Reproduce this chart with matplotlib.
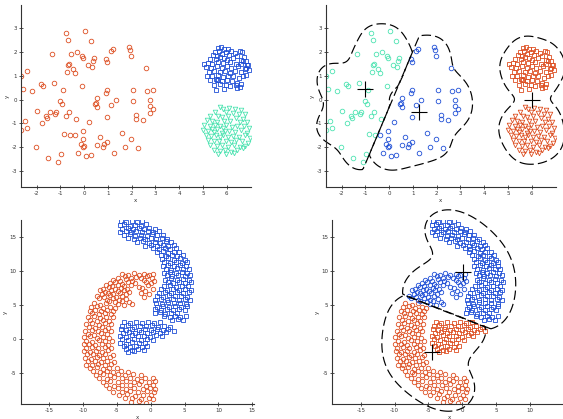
import numpy as np
import matplotlib.pyplot as plt

# ---------------------------------------------------------------- top row
# loose cluster (circles); split the way the clustering on the right splits it
wide_left = [
    (-0.76, 2.81), (0.04, 2.89), (-0.67, 2.52), (0.30, 2.47), (-1.35, 1.92),
    (-0.54, 1.91), (-0.30, 1.99), (-0.09, 1.84), (-0.06, 1.74), (0.41, 1.74),
    (0.37, 1.63), (-0.64, 1.49), (-0.68, 1.45), (0.18, 1.47), (0.32, 1.39),
    (-0.48, 1.29), (-0.40, 1.12), (-0.72, 1.15), (-2.41, 1.21), (-2.66, 1.00),
    (-2.56, 0.45), (-2.20, 0.35), (-1.83, 0.66), (-1.72, 0.56), (-1.27, 0.70),
    (-0.91, 0.41), (-0.11, 0.56), (-1.02, -0.04), (-0.93, -0.20), (-2.00, -0.46),
    (-1.42, -0.53), (-1.19, -0.52), (-1.21, -0.60), (-0.64, -0.52), (-0.76, -0.69),
    (-1.59, -0.69), (-1.57, -0.79), (-0.34, -0.80), (-2.51, -0.90), (-1.76, -0.98),
    (-2.41, -1.18), (-2.66, -1.26), (-0.84, -1.46), (-0.58, -1.49), (-2.01, -1.98),
    (-0.99, -2.29), (-1.51, -2.45), (-1.10, -2.64),
]
wide_right = [
    (0.92, 1.73), (0.95, 1.58), (1.13, 2.05), (1.20, 2.13), (1.87, 2.20),
    (1.93, 2.09), (1.97, 1.84), (2.59, 1.35), (0.90, 0.29), (0.96, 0.41),
    (0.55, 0.06), (1.34, 0.00), (2.07, 0.41), (2.04, -0.06), (2.66, 0.38),
    (2.88, 0.41), (2.77, 0.00), (2.77, -0.25), (2.88, -0.39), (2.77, -0.56),
    (0.49, -0.14), (0.52, -0.32), (0.46, -0.18), (1.12, -0.22), (0.95, -0.74),
    (2.16, -0.63), (2.18, -0.83), (2.49, -0.86), (0.19, -0.93), (-0.06, -1.32),
    (-0.37, -1.49), (1.61, -1.39), (0.67, -1.56), (-0.04, -1.65), (1.99, -1.65),
    (0.95, -1.78), (-0.15, -1.87), (-0.01, -1.95), (-0.04, -1.98), (0.53, -1.89),
    (0.82, -1.87), (0.80, -1.98), (1.71, -1.99), (2.25, -2.01), (-0.25, -2.23),
    (1.27, -2.26), (0.07, -2.36), (0.27, -2.33),
]
# tight cluster, squares
tight_upper = [
    (5.62, 2.18), (5.75, 2.21), (5.88, 2.15), (6.05, 2.12), (6.55, 2.05), (6.65, 2.00),
    (5.50, 2.02), (5.68, 2.05), (5.95, 2.00), (6.20, 2.03), (6.35, 1.95), (5.42, 1.88),
    (5.60, 1.85), (5.80, 1.92), (6.10, 1.88), (6.45, 1.85), (6.72, 1.78), (5.30, 1.72),
    (5.55, 1.70), (5.72, 1.78), (5.90, 1.74), (6.02, 1.68), (6.25, 1.75), (6.58, 1.68),
    (6.80, 1.62), (5.05, 1.48), (5.20, 1.55), (5.40, 1.52), (5.65, 1.58), (5.85, 1.55),
    (6.15, 1.60), (6.38, 1.52), (6.62, 1.48), (6.85, 1.45), (5.12, 1.38), (5.35, 1.35),
    (5.58, 1.42), (5.78, 1.32), (6.00, 1.40), (6.20, 1.35), (6.48, 1.40), (6.75, 1.30),
    (6.92, 1.25), (5.25, 1.18), (5.48, 1.22), (5.70, 1.15), (5.92, 1.20), (6.12, 1.12),
    (6.35, 1.20), (6.58, 1.15), (6.82, 1.05), (5.15, 1.00), (5.38, 0.98), (5.62, 1.02),
    (5.85, 0.95), (6.05, 1.00), (6.28, 0.98), (6.50, 0.92), (6.70, 0.98), (5.30, 0.82),
    (5.55, 0.85), (5.65, 0.82), (5.78, 0.80), (6.00, 0.82), (6.22, 0.78), (6.45, 0.72),
    (6.62, 0.68), (5.45, 0.62), (5.70, 0.65), (5.95, 0.60), (6.15, 0.58), (6.38, 0.62),
    (6.55, 0.55), (5.55, 0.42), (5.88, 0.45), (6.42, 0.50), (6.70, 1.62), (6.90, 1.45),
    (5.60, 0.82), (6.80, 1.32),
]
# tight cluster, triangles
tight_lower = [
    (5.70, -0.32), (5.85, -0.38), (6.10, -0.35), (6.35, -0.40), (6.60, -0.45), (5.50, -0.50),
    (5.95, -0.52), (6.25, -0.55), (6.50, -0.60), (6.78, -0.62), (5.30, -0.68), (5.62, -0.70),
    (5.80, -0.72), (6.05, -0.68), (6.40, -0.75), (6.68, -0.80), (5.15, -0.85), (5.40, -0.88),
    (5.58, -0.95), (5.90, -0.90), (6.15, -0.88), (6.55, -0.95), (6.85, -0.92), (5.05, -1.05),
    (5.28, -1.10), (5.50, -1.05), (5.72, -1.12), (5.95, -1.08), (6.22, -1.15), (6.45, -1.10),
    (6.72, -1.12), (6.95, -1.18), (5.00, -1.28), (5.22, -1.30), (5.45, -1.35), (5.60, -1.25),
    (5.78, -1.38), (5.92, -1.32), (6.10, -1.30), (6.35, -1.35), (6.62, -1.28), (6.85, -1.38),
    (5.12, -1.50), (5.35, -1.52), (5.55, -1.48), (5.70, -1.55), (5.85, -1.50), (6.05, -1.58),
    (6.28, -1.52), (6.50, -1.55), (6.78, -1.50), (6.98, -1.60), (5.20, -1.70), (5.48, -1.72),
    (5.68, -1.75), (5.95, -1.72), (6.18, -1.78), (6.40, -1.70), (6.65, -1.75), (6.88, -1.80),
    (5.30, -1.92), (5.58, -1.95), (5.80, -1.90), (6.05, -1.98), (6.30, -1.92), (6.55, -1.98),
    (6.78, -1.95), (5.45, -2.10), (5.70, -2.15), (5.92, -2.12), (6.20, -2.18), (6.45, -2.10),
    (6.68, -2.05), (5.65, -2.30), (5.95, -2.28), (6.30, -2.25), (5.40, -1.22), (5.85, -1.20),
]
top_centres_x = [-1.0, 1.25, 6.0]
top_centres_y = [0.45, -0.5, 0.0]

# ------------------------------------------------------------- bottom row
# lower arc (circles): the upper end goes to the other cluster on the right
lower_arc_top = [
    (-4.2, 9.6), (-3.3, 9.4), (-2.5, 9.65), (-1.8, 9.35), (-1.0, 9.55), (-0.3, 9.4), (0.4, 9.6),
    (-4.8, 9.0), (-3.8, 9.2), (-2.9, 8.95), (-2.1, 9.15), (-1.4, 9.0), (-0.6, 9.2), (0.2, 8.95),
    (-5.5, 8.75), (-4.5, 8.55), (-3.6, 8.8), (-2.7, 8.6), (-1.0, 8.7), (0.5, 8.6),
    (-6.0, 8.2), (-5.2, 8.4), (-4.2, 8.15), (-3.3, 8.35), (-2.3, 8.2), (-0.7, 8.4), (0.1, 8.2),
    (-6.6, 7.95), (-5.7, 7.75), (-4.8, 8.0), (-3.9, 7.8), (-2.9, 7.95), (-1.8, 7.7), (-0.4, 7.9),
    (-7.0, 7.4), (-6.2, 7.6), (-5.3, 7.35), (-4.4, 7.55), (-3.5, 7.4), (-1.3, 7.5), (0.3, 7.35),
    (-7.5, 7.15), (-6.7, 6.95), (-5.8, 7.2), (-4.9, 7.0), (-4.0, 7.15), (-3.2, 6.95), (-0.8, 7.1),
    (-7.2, 6.6), (-6.3, 6.8), (-5.5, 6.55), (-4.6, 6.75), (-3.7, 6.6), (-1.5, 6.7), (-0.3, 6.55),
    (-7.9, 6.35), (-6.9, 6.2), (-6.0, 6.4), (-5.1, 6.15), (-4.2, 6.3), (-1.0, 6.2),
    (-7.6, 5.95), (-6.5, 5.8), (-5.6, 6.0), (-4.7, 5.75), (-3.6, 5.9),
    (-6.2, 5.55), (-5.2, 5.4), (-4.3, 5.6), (-3.2, 5.45),
    (-4.8, 5.15), (-3.9, 5.0), (-2.8, 5.1),
]
lower_arc_rest = [
    (-8.4, 5.25), (-7.5, 5.05), (-6.6, 5.3),
    (-8.8, 4.7), (-7.9, 4.85), (-7.0, 4.6), (-6.0, 4.75), (-5.3, 4.55),
    (-9.0, 4.15), (-8.2, 4.3), (-7.3, 4.1), (-6.4, 4.25), (-5.6, 4.05),
    (-8.6, 3.75), (-7.7, 3.6), (-6.8, 3.8), (-5.9, 3.65),
    (-9.3, 3.2), (-8.4, 3.35), (-7.5, 3.1), (-6.6, 3.25), (-5.6, 3.15),
    (-8.9, 2.75), (-8.0, 2.6), (-7.1, 2.8), (-6.2, 2.65),
    (-9.5, 2.2), (-8.6, 2.35), (-7.6, 2.1), (-6.7, 2.3), (-5.8, 2.15),
    (-9.1, 1.75), (-8.2, 1.6), (-7.2, 1.8), (-6.3, 1.65),
    (-9.7, 1.2), (-8.7, 1.35), (-7.8, 1.1), (-6.8, 1.25), (-5.9, 1.15),
    (-9.3, 0.75), (-8.4, 0.6), (-7.4, 0.8), (-6.5, 0.65),
    (-9.9, 0.2), (-9.0, 0.35), (-8.0, 0.1), (-7.1, 0.3), (-6.1, 0.15),
    (-9.5, -0.25), (-8.6, -0.4), (-7.6, -0.2), (-6.7, -0.35), (-5.7, -0.25),
    (-9.9, -0.8), (-9.1, -0.7), (-8.2, -0.9), (-7.2, -0.75), (-6.3, -0.85),
    (-9.6, -1.3), (-8.7, -1.2), (-7.8, -1.4), (-6.8, -1.25), (-5.8, -1.35),
    (-9.8, -1.8), (-9.0, -1.95), (-8.1, -1.75), (-7.2, -1.9), (-6.3, -1.7),
    (-9.4, -2.3), (-8.5, -2.2), (-7.6, -2.4), (-6.7, -2.25), (-5.6, -2.35),
    (-9.7, -2.8), (-8.8, -2.95), (-7.9, -2.75), (-7.0, -2.9), (-6.0, -2.7),
    (-9.2, -3.3), (-8.3, -3.2), (-7.4, -3.4), (-6.4, -3.25), (-5.4, -3.35),
    (-9.5, -3.8), (-8.7, -3.9), (-7.8, -3.7), (-6.8, -3.85), (-5.8, -3.75),
    (-8.9, -4.3), (-8.0, -4.2), (-7.1, -4.4), (-6.1, -4.25), (-5.0, -4.35),
    (-8.5, -4.8), (-7.5, -4.9), (-6.5, -4.7), (-5.5, -4.85), (-4.4, -4.75), (-3.3, -4.9),
    (-8.1, -5.3), (-7.1, -5.2), (-6.0, -5.4), (-4.9, -5.25), (-3.8, -5.35), (-2.6, -5.2),
    (-1.4, -5.4),
    (-7.6, -5.8), (-6.5, -5.9), (-5.4, -5.7), (-4.3, -5.85), (-3.1, -5.75), (-2.0, -5.9),
    (-0.9, -5.75), (0.3, -5.85),
    (-7.1, -6.3), (-6.0, -6.2), (-4.8, -6.4), (-3.6, -6.25), (-2.5, -6.35), (-1.4, -6.2),
    (-0.3, -6.4), (0.6, -6.25),
    (-6.6, -6.8), (-5.4, -6.9), (-4.2, -6.75), (-3.0, -6.85), (-1.8, -6.7), (-0.7, -6.9),
    (0.4, -6.75),
    (-6.1, -7.3), (-4.9, -7.2), (-3.7, -7.4), (-2.4, -7.25), (-1.2, -7.35), (-0.1, -7.2),
    (0.7, -7.4),
    (-5.5, -7.8), (-4.3, -7.9), (-3.1, -7.7), (-1.9, -7.85), (-0.6, -7.75), (0.5, -7.9),
    (-4.7, -8.3), (-3.5, -8.2), (-2.3, -8.4), (-1.1, -8.25), (0.1, -8.35),
    (-3.8, -8.8), (-2.7, -8.7), (-1.5, -8.9), (-0.3, -8.75), (0.4, -8.9),
    (-2.9, -9.3), (-1.8, -9.2), (-0.7, -9.4),
]
# upper arc (squares): the lower tail goes to the other cluster on the right
upper_arc_main = [
    (-4.4, 17.35), (-3.6, 17.2), (-2.8, 17.4), (-2.0, 17.25), (-1.3, 17.4),
    (-4.5, 16.75), (-3.9, 16.9), (-3.1, 16.7), (-2.3, 16.85), (-1.5, 16.7), (-0.7, 16.9),
    (-4.2, 16.25), (-3.4, 16.4), (-2.6, 16.2), (-1.8, 16.35), (-1.0, 16.2), (-0.2, 16.4),
    (0.6, 16.25),
    (-4.5, 15.75), (-3.7, 15.9), (-2.9, 15.7), (-2.1, 15.85), (-1.3, 15.7), (-0.4, 15.9),
    (0.4, 15.75), (1.2, 15.85),
    (-4.0, 15.25), (-3.1, 15.4), (-2.3, 15.2), (-1.5, 15.35), (-0.6, 15.2), (0.2, 15.4),
    (1.0, 15.25), (1.8, 15.35),
    (-3.3, 14.85), (-2.4, 14.7), (-1.6, 14.9), (-0.8, 14.75), (0.0, 14.85), (0.8, 14.7),
    (1.6, 14.9), (2.4, 14.75),
    (-2.0, 14.25), (-1.1, 14.4), (-0.3, 14.2), (0.6, 14.35), (1.4, 14.2), (2.2, 14.4),
    (3.0, 14.25),
    (-0.8, 13.75), (0.1, 13.9), (1.0, 13.7), (1.8, 13.85), (2.6, 13.7), (3.4, 13.9),
    (0.4, 13.35), (1.2, 13.2), (2.1, 13.4), (2.9, 13.25), (3.7, 13.35),
    (1.0, 12.75), (1.8, 12.9), (2.6, 12.7), (3.4, 12.85), (4.2, 12.75),
    (1.5, 12.35), (2.3, 12.2), (3.1, 12.4), (3.9, 12.25), (4.7, 12.35),
    (1.7, 11.75), (2.6, 11.9), (3.4, 11.7), (4.3, 11.85), (5.0, 11.7),
    (2.0, 11.35), (2.9, 11.2), (3.7, 11.4), (4.6, 11.25), (5.3, 11.35),
    (1.8, 10.75), (2.6, 10.9), (3.5, 10.7), (4.3, 10.85), (5.2, 10.75),
    (2.2, 10.35), (3.0, 10.2), (3.9, 10.4), (4.8, 10.25), (5.6, 10.35),
    (2.0, 9.75), (2.9, 9.9), (3.7, 9.7), (4.6, 9.85), (5.4, 9.75),
    (2.4, 9.35), (3.2, 9.2), (4.1, 9.4), (5.0, 9.25), (5.8, 9.35),
    (2.1, 8.75), (3.0, 8.9), (3.9, 8.7), (4.8, 8.85), (5.7, 8.75),
    (2.5, 8.35), (3.3, 8.2), (4.2, 8.4), (5.1, 8.25), (6.0, 8.35),
    (1.9, 7.75), (2.8, 7.9), (3.7, 7.7), (4.6, 7.85), (5.5, 7.75),
    (1.5, 7.35), (2.4, 7.2), (3.3, 7.4), (4.2, 7.25), (5.1, 7.35), (5.9, 7.2),
    (1.2, 6.75), (2.1, 6.9), (3.0, 6.7), (3.9, 6.85), (4.8, 6.75), (5.6, 6.9),
    (0.9, 6.35), (1.8, 6.2), (2.7, 6.4), (3.6, 6.25), (4.5, 6.35), (5.4, 6.2),
    (0.7, 5.75), (1.5, 5.9), (2.4, 5.7), (3.3, 5.85), (4.2, 5.75), (5.1, 5.9), (5.8, 5.7),
    (0.8, 5.35), (1.6, 5.2), (2.5, 5.4), (3.4, 5.25), (4.3, 5.35), (5.2, 5.2),
    (1.0, 4.75), (1.8, 4.9), (2.7, 4.7), (3.6, 4.85), (4.5, 4.75), (5.3, 4.9),
    (0.7, 4.35), (1.5, 4.2), (2.4, 4.4), (3.3, 4.25), (4.2, 4.35), (5.0, 4.2),
    (0.6, 3.75), (1.3, 3.9), (2.1, 3.7), (3.0, 3.85), (3.9, 3.75),
    (2.0, 3.35), (2.8, 3.2), (3.6, 3.4), (4.4, 3.25), (5.2, 3.35),
    (3.2, 2.85), (4.0, 2.95), (4.8, 2.8),
]
upper_arc_tail = [
    (-3.9, 2.45), (-3.1, 2.3), (-2.2, 2.5), (-1.3, 2.35), (-0.4, 2.5), (0.5, 2.3), (1.4, 2.45),
    (-4.2, 1.85), (-3.4, 2.0), (-2.5, 1.8), (-1.6, 1.95), (-0.7, 1.85), (0.2, 2.0), (1.1, 1.8),
    (2.0, 1.95), (2.9, 1.75),
    (-4.4, 1.45), (-3.6, 1.3), (-2.7, 1.5), (-1.8, 1.35), (-0.9, 1.45), (0.0, 1.3), (0.9, 1.5),
    (1.8, 1.35), (2.6, 1.45), (3.4, 1.2),
    (-4.1, 0.85), (-3.2, 1.0), (-2.3, 0.8), (-1.4, 0.95), (-0.5, 0.85), (0.4, 1.0), (1.3, 0.8),
    (2.2, 0.95),
    (-4.5, 0.45), (-3.7, 0.3), (-2.8, 0.5), (-1.9, 0.35), (-1.0, 0.45), (-0.1, 0.3), (0.8, 0.5),
    (1.6, 0.35),
    (-4.2, -0.05), (-3.3, -0.2), (-2.4, 0.0), (-1.5, -0.15), (-0.6, -0.05), (0.3, -0.2),
    (-4.5, -0.55), (-3.6, -0.7), (-2.7, -0.5), (-1.8, -0.65), (-0.9, -0.55),
    (-4.0, -1.05), (-3.1, -1.2), (-2.2, -1.0), (-1.3, -1.15), (-0.5, -1.05),
    (-3.7, -1.55), (-2.8, -1.7), (-1.9, -1.5), (-1.0, -1.65),
    (-3.4, -1.95), (-2.4, -1.85),
]
bottom_centres_x = [0.1, -4.5]
bottom_centres_y = [9.8, -1.9]

ORANGE = "#dd4f22"
BLUE = "#1f4fd6"
GREEN = "#4de3b1"
AXIS = "#333333"

TOP_XLIM, TOP_YLIM = (-2.66, 7.0), (-3.67, 3.98)
BOT_XLIM, BOT_YLIM = (-19.2, 15.3), (-9.66, 17.5)


def pts(*groups):
    return np.vstack([np.asarray(g, dtype=float) for g in groups])


def scatter(ax, p, marker, color, ms=3.3):
    ax.plot(p[:, 0], p[:, 1], linestyle="none", marker=marker, mfc="none",
            mec=color, ms=ms, mew=0.6)


def style(ax, xlim, ylim, xticks, yticks):
    ax.set_xlim(*xlim)
    ax.set_ylim(*ylim)
    ax.set_xticks(xticks)
    ax.set_yticks(yticks)
    for side in ("top", "right"):
        ax.spines[side].set_visible(False)
    for side in ("left", "bottom"):
        ax.spines[side].set_color(AXIS)
        ax.spines[side].set_linewidth(0.8)
    ax.tick_params(direction="inout", length=3, width=0.6, labelsize=4,
                   pad=1.5, colors=AXIS)
    ax.set_xlabel("x", fontsize=4, labelpad=1, color=AXIS)
    ax.set_ylabel("y", fontsize=4, labelpad=1, color=AXIS)


def outlines(ax, groups, centres, bws, fracs, xlim, ylim):
    # density level set of each cluster, cut by the nearest-centre rule
    gx = np.linspace(xlim[0] - 2, xlim[1] + 2, 360)
    gy = np.linspace(ylim[0] - 2, ylim[1] + 2, 360)
    X, Y = np.meshgrid(gx, gy)
    dist = np.array([(X - cx) ** 2 + (Y - cy) ** 2 for cx, cy in centres])
    for k, g in enumerate(groups):
        d = np.zeros_like(X)
        for px, py in g:
            d += np.exp(-((X - px) ** 2 + (Y - py) ** 2) / (2 * bws[k] ** 2))
        others = np.min(np.delete(dist, k, axis=0), axis=0)
        f = np.minimum((d - fracs[k] * d.max()) / d.max(), others - dist[k])
        cs = ax.contour(X, Y, f, levels=[0], colors="k", linewidths=0.85,
                        linestyles=[(0, (8, 3.5))])
        cs.set_clip_on(False)


plt.rcParams["axes.unicode_minus"] = False
fig = plt.figure(figsize=(5.63, 4.19), dpi=100)
W, H = 563, 419
ax_tl = fig.add_axes([21 / W, 1 - 187 / H, 229.5 / W, 182 / H])
ax_tr = fig.add_axes([326 / W, 1 - 187 / H, 229.5 / W, 182 / H])
ax_bl = fig.add_axes([20.7 / W, 1 - 404.3 / H, 233.6 / W, 184.1 / H])
ax_br = fig.add_axes([332.3 / W, 1 - 404.3 / H, 233.6 / W, 184.1 / H])

wl, wr = pts(wide_left), pts(wide_right)
tu, tl = pts(tight_upper), pts(tight_lower)

# top left: true groups
scatter(ax_tl, pts(wide_left, wide_right), "o", ORANGE)
scatter(ax_tl, tu, "s", BLUE)
scatter(ax_tl, tl, "v", GREEN)

# top right: clustering result
scatter(ax_tr, wl, "o", GREEN)
scatter(ax_tr, wr, "o", BLUE)
scatter(ax_tr, tu, "s", ORANGE)
scatter(ax_tr, tl, "v", ORANGE)
outlines(ax_tr, [wl, wr, pts(tight_upper, tight_lower)],
         list(zip(top_centres_x, top_centres_y)),
         [0.5, 0.5, 0.35], [0.2, 0.2, 0.12], TOP_XLIM, TOP_YLIM)
ax_tr.plot(top_centres_x, top_centres_y, linestyle="none", marker="+", color="k",
           ms=11, mew=0.8)

for ax in (ax_tl, ax_tr):
    style(ax, TOP_XLIM, TOP_YLIM, range(-2, 7), range(-3, 4))

lt, lr = pts(lower_arc_top), pts(lower_arc_rest)
um, ut = pts(upper_arc_main), pts(upper_arc_tail)

# bottom left: true groups
scatter(ax_bl, pts(lower_arc_top, lower_arc_rest), "o", ORANGE, ms=3.2)
scatter(ax_bl, pts(upper_arc_main, upper_arc_tail), "s", BLUE, ms=3.2)

# bottom right: clustering result
scatter(ax_br, lr, "o", ORANGE, ms=3.2)
scatter(ax_br, ut, "s", ORANGE, ms=3.2)
scatter(ax_br, lt, "o", BLUE, ms=3.2)
scatter(ax_br, um, "s", BLUE, ms=3.2)
outlines(ax_br, [pts(upper_arc_main, lower_arc_top), pts(lower_arc_rest, upper_arc_tail)],
         list(zip(bottom_centres_x, bottom_centres_y)),
         [2.2, 2.2], [0.25, 0.25], BOT_XLIM, BOT_YLIM)
ax_br.plot(bottom_centres_x, bottom_centres_y, linestyle="none", marker="+", color="k",
           ms=11, mew=0.8)

style(ax_bl, BOT_XLIM, BOT_YLIM, range(-15, 16, 5), range(-5, 16, 5))
style(ax_br, BOT_XLIM, BOT_YLIM, range(-15, 11, 5), range(-5, 16, 5))

fig.savefig("out.png", dpi=100)
